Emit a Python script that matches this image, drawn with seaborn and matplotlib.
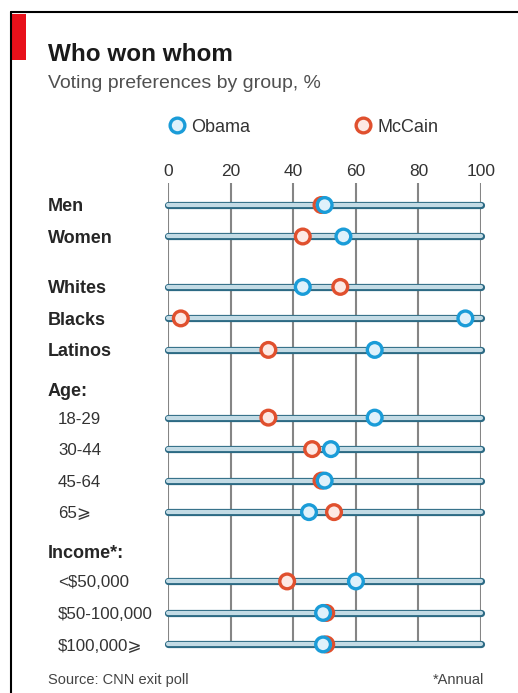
import numpy as np
import pandas as pd
import matplotlib.pyplot as plt
import seaborn as sns
from matplotlib.lines import Line2D
from matplotlib.patches import Rectangle
from matplotlib.transforms import blended_transform_factory

# --- data ---
labels = ["Men", "Women", "Whites", "Blacks", "Latinos", "Age:",
          "18-29", "30-44", "45-64", "65⩾", "Income*:",
          "<$50,000", "$50-100,000", "$100,000⩾"]
styles = ["bold"] * 6 + ["sub"] * 4 + ["bold"] + ["sub"] * 3
gaps = [0, 1, 1.6, 1, 1, 1.25, 0.9, 1, 1, 1, 1.25, 0.95, 1, 1]
obama = [50, 56, 43, 95, 66, np.nan, 66, 52, 50, 45, np.nan, 60, 49.5, 49.5]
mccain = [49, 43, 55, 4, 32, np.nan, 32, 46, 49, 53, np.nan, 38, 50.5, 50.5]
ticks = [0, 20, 40, 60, 80, 100]

ring = {"Obama": "#1a9cd8", "McCain": "#e0502e"}
fill = {"Obama": "#dff1fb", "McCain": "#fde9e4"}
BAR_DARK = "#2c6a84"
BAR_LIGHT = "#c3dbe5"

# --- layout in pixels ---
W, H = 518, 693
X0, X100 = 168.3, 481.0
ROW0, STEP = 205, 31.5
AX_TOP, AX_BOT = 183, 665


def fx(px):
    return px / W


def fy(py):
    return 1 - py / H


sns.set_theme(style="white")
plt.rcParams["font.family"] = ["Liberation Sans", "DejaVu Sans"]

df = pd.DataFrame({"group": labels, "pos": np.cumsum(gaps),
                   "Obama": obama, "McCain": mccain})
long = df.melt(id_vars=["group", "pos"], value_vars=["McCain", "Obama"],
               var_name="candidate", value_name="share").dropna()

fig = plt.figure(figsize=(W / 100, H / 100), dpi=100)
ax = fig.add_axes([fx(X0), fy(AX_BOT), (X100 - X0) / W, (AX_BOT - AX_TOP) / H])
p_top = (AX_TOP - ROW0) / STEP
p_bot = (AX_BOT - ROW0) / STEP
ax.set_xlim(0, 100)
ax.set_ylim(p_bot, p_top)

# vertical grid lines
ax.vlines(ticks, df["pos"].iloc[-1], p_top, color="#858585", lw=1.5, zorder=1)

# row bars
rows = df.dropna(subset=["Obama"])
for lw, col in [(5.2, BAR_DARK), (3.0, BAR_LIGHT)]:
    lc = ax.hlines(rows["pos"], 0, 100, color=col, lw=lw, zorder=2, clip_on=False)
    lc.set_capstyle("round")

# markers (Obama drawn last, on top)
sns.scatterplot(data=long, x="share", y="pos", hue="candidate", palette=fill,
                s=112, linewidth=2.4, legend=False, zorder=5, clip_on=False, ax=ax)
coll = ax.collections[-1]
coll.set_edgecolor(long["candidate"].map(ring).tolist())

ax.xaxis.tick_top()
ax.set_xticks(ticks)
ax.tick_params(axis="x", length=0, pad=3, labelsize=12.5, labelcolor="#333333")
ax.set_yticks([])
ax.set_xlabel("")
ax.set_ylabel("")
sns.despine(ax=ax, left=True, bottom=True, top=True, right=True)

# row labels
trans = blended_transform_factory(fig.transFigure, ax.transData)
for lab, sty, p in zip(df["group"], styles, df["pos"]):
    if sty == "bold":
        ax.text(fx(48), p, lab, transform=trans, ha="left", va="center_baseline",
                fontsize=13, fontweight="bold", color="#262626")
    else:
        ax.text(fx(58), p, lab, transform=trans, ha="left", va="center_baseline",
                fontsize=12.2, color="#333333")

# legend
handles = [Line2D([], [], marker="o", ls="", markersize=10.6,
                  markerfacecolor=fill[c], markeredgecolor=ring[c],
                  markeredgewidth=2.4, label=c) for c in ["Obama", "McCain"]]
fig.legend(handles=handles, loc="center left", bbox_to_anchor=(fx(160.8), fy(127)),
           ncol=2, frameon=False, handlelength=0.8, handletextpad=0.4,
           columnspacing=5.84, borderpad=0, fontsize=13, labelcolor="#333333")

# frame and red tag
fig.add_artist(Line2D([fx(11), fx(11)], [fy(12), 0], transform=fig.transFigure,
                      color="black", lw=1.5))
fig.add_artist(Line2D([fx(11), 1], [fy(12), fy(12)], transform=fig.transFigure,
                      color="black", lw=1.5))
fig.add_artist(Rectangle((fx(12), fy(60)), fx(26) - fx(12), (60 - 14) / H,
                         transform=fig.transFigure, color="#e8101a", lw=0))

fig.text(fx(48), fy(61), "Who won whom", fontsize=17.5, fontweight="bold",
         color="#1a1a1a", va="baseline")
fig.text(fx(48), fy(88), "Voting preferences by group, %", fontsize=14,
         color="#505050", va="baseline")
fig.text(fx(48), fy(684), "Source: CNN exit poll", fontsize=10.5,
         color="#444444", va="baseline")
fig.text(fx(484), fy(684), "*Annual", fontsize=10.5, color="#444444",
         va="baseline", ha="right")

fig.savefig("out.png", dpi=100)
